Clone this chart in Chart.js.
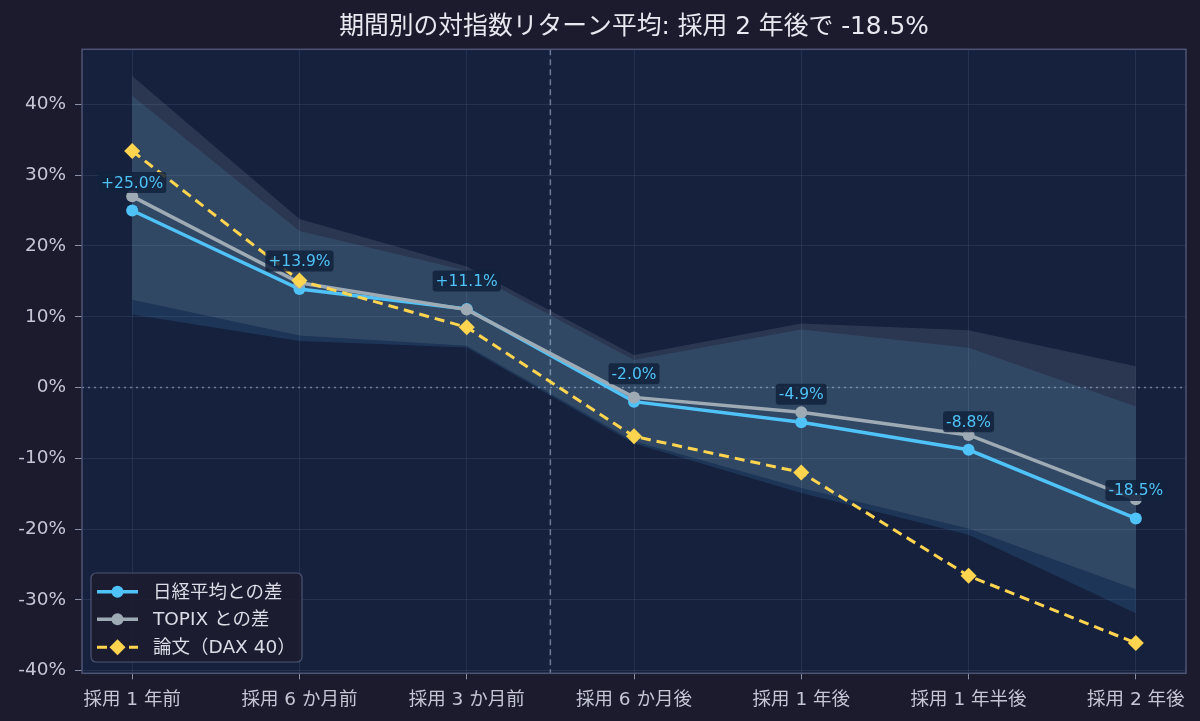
<!DOCTYPE html>
<html>
<head>
<meta charset="utf-8">
<script src="https://cdn.jsdelivr.net/npm/chart.js@4.4.1/dist/chart.umd.min.js"></script>
<style>
  html, body { margin: 0; padding: 0; background: #1c1b2e; }
  #wrap { width: 1200px; height: 721px; }
</style>
</head>
<body>
<div id="wrap"><canvas id="c" width="1200" height="721"></canvas></div>
<script>
// ---- data ----
const categories = ['採用 1 年前', '採用 6 か月前', '採用 3 か月前', '採用 6 か月後', '採用 1 年後', '採用 1 年半後', '採用 2 年後'];
const nikkeiDiff = [25.0, 13.9, 11.1, -2.0, -4.9, -8.8, -18.5];
const topixDiff = [27.0, 14.8, 11.0, -1.4, -3.5, -6.7, -15.8];
const daxPaper = [33.4, 15.1, 8.5, -6.9, -12.0, -26.6, -36.1];
const topixBandUpper = [44.0, 23.8, 17.1, 4.6, 9.05, 8.1, 3.0];
const topixBandLower = [12.4, 7.35, 5.9, -7.6, -14.2, -19.9, -28.5];
const nikkeiBandUpper = [41.2, 22.1, 16.5, 3.9, 8.2, 5.6, -2.7];
const nikkeiBandLower = [10.3, 6.55, 5.65, -7.9, -14.9, -20.8, -31.9];
const yTicks = [-40, -30, -20, -10, 0, 10, 20, 30, 40];
const legendLabels = ['日経平均との差', 'TOPIX との差', '論文（DAX 40）'];
const titleText = '期間別の対指数リターン平均: 採用 2 年後で -18.5%';

const FONT = "'DejaVu Sans', 'Noto Sans CJK JP', sans-serif";
const BLUE = '#4fc3f7', GRAY = '#9eaab4', YELLOW = '#ffd54f';
const xy = arr => arr.map((v, i) => ({ x: i, y: v }));

const bgPlugin = {
  id: 'bg',
  beforeDraw(chart) {
    const { ctx, chartArea: a } = chart;
    ctx.save();
    ctx.fillStyle = '#1c1b2e';
    ctx.fillRect(0, 0, chart.width, chart.height);
    ctx.fillStyle = '#16213e';
    ctx.fillRect(a.left, a.top, a.right - a.left, a.bottom - a.top);
    // title centred over the plot area
    ctx.fillStyle = '#e8e8f0';
    ctx.font = '24.8px ' + FONT;
    ctx.textAlign = 'center';
    ctx.textBaseline = 'middle';
    ctx.fillText(titleText, (a.left + a.right) / 2, 27.5);
    ctx.restore();
  },
  beforeDatasetsDraw(chart) {
    const { ctx, chartArea: a, scales } = chart;
    ctx.save();
    const y0 = scales.y.getPixelForValue(0);
    ctx.strokeStyle = 'rgba(140,155,185,0.75)';
    ctx.lineWidth = 1.5;
    ctx.setLineDash([2, 4]);
    ctx.beginPath(); ctx.moveTo(a.left, y0); ctx.lineTo(a.right, y0); ctx.stroke();
    const xv = scales.x.getPixelForValue(2.5);
    ctx.strokeStyle = 'rgba(130,145,175,0.8)';
    ctx.setLineDash([6, 4]);
    ctx.beginPath(); ctx.moveTo(xv, a.top); ctx.lineTo(xv, a.bottom); ctx.stroke();
    ctx.restore();
  },
  afterDatasetsDraw(chart) {
    const { ctx, chartArea: a } = chart;
    ctx.save();
    const meta = chart.getDatasetMeta(2);
    ctx.font = '15.5px ' + FONT;
    ctx.textAlign = 'center';
    ctx.textBaseline = 'middle';
    meta.data.forEach((pt, i) => {
      const v = nikkeiDiff[i];
      const txt = (v > 0 ? '+' : '') + v.toFixed(1) + '%';
      const w = ctx.measureText(txt).width + 6;
      const h = 21;
      const cx = pt.x, cy = pt.y - 28;
      ctx.fillStyle = 'rgba(18,34,60,0.85)';
      ctx.beginPath();
      ctx.roundRect(cx - w / 2, cy - h / 2, w, h, 3);
      ctx.fill();
      ctx.fillStyle = BLUE;
      ctx.fillText(txt, cx, cy + 1);
    });
    ctx.strokeStyle = '#4d5474';
    ctx.lineWidth = 1.5;
    ctx.strokeRect(a.left, a.top, a.right - a.left, a.bottom - a.top);
    const lx = 91, ly = 573, lw = 211, lh = 89;
    ctx.fillStyle = 'rgba(28,27,46,0.88)';
    ctx.strokeStyle = '#4d5474';
    ctx.lineWidth = 1.2;
    ctx.beginPath(); ctx.roundRect(lx, ly, lw, lh, 5); ctx.fill(); ctx.stroke();
    const rows = [591.7, 619.3, 647.3];
    const cols = [BLUE, GRAY, YELLOW];
    rows.forEach((ry, i) => {
      ctx.strokeStyle = cols[i];
      ctx.fillStyle = cols[i];
      if (i < 2) {
        ctx.setLineDash([]);
        ctx.lineWidth = 3.5;
        ctx.beginPath(); ctx.moveTo(97, ry); ctx.lineTo(138, ry); ctx.stroke();
        ctx.beginPath(); ctx.arc(117.5, ry, 6, 0, Math.PI * 2); ctx.fill();
      } else {
        ctx.setLineDash([10, 6]);
        ctx.lineWidth = 3;
        ctx.beginPath(); ctx.moveTo(97, ry); ctx.lineTo(138, ry); ctx.stroke();
        ctx.setLineDash([]);
        ctx.beginPath();
        ctx.moveTo(117.5, ry - 8); ctx.lineTo(125.5, ry); ctx.lineTo(117.5, ry + 8); ctx.lineTo(109.5, ry);
        ctx.closePath(); ctx.fill();
      }
      ctx.setLineDash([]);
      ctx.fillStyle = '#dcdce6';
      ctx.font = '18.5px ' + FONT;
      ctx.textAlign = 'left';
      ctx.textBaseline = 'middle';
      ctx.fillText(legendLabels[i], 153, ry + 1);
    });
    ctx.restore();
  }
};

new Chart(document.getElementById('c'), {
  type: 'line',
  data: {
    datasets: [
      { label: legendLabels[2], data: xy(daxPaper), order: 0, borderColor: YELLOW, backgroundColor: YELLOW,
        borderWidth: 3, borderDash: [10, 6], pointStyle: 'rectRot', pointRadius: 8, pointBorderWidth: 0, fill: false, tension: 0 },
      { label: legendLabels[1], data: xy(topixDiff), order: 1, borderColor: GRAY, backgroundColor: GRAY,
        borderWidth: 3.5, pointStyle: 'circle', pointRadius: 6, pointBorderWidth: 0, fill: false, tension: 0 },
      { label: legendLabels[0], data: xy(nikkeiDiff), order: 2, borderColor: BLUE, backgroundColor: BLUE,
        borderWidth: 3.5, pointStyle: 'circle', pointRadius: 6, pointBorderWidth: 0, fill: false, tension: 0 },
      { label: 'topixUpper', data: xy(topixBandUpper), order: 3, borderWidth: 0, pointRadius: 0,
        backgroundColor: 'rgba(176,190,197,0.14)', fill: '+1', tension: 0 },
      { label: 'topixLower', data: xy(topixBandLower), order: 3, borderWidth: 0, pointRadius: 0, fill: false, tension: 0 },
      { label: 'nikkeiUpper', data: xy(nikkeiBandUpper), order: 4, borderWidth: 0, pointRadius: 0,
        backgroundColor: 'rgba(79,195,247,0.13)', fill: '+1', tension: 0 },
      { label: 'nikkeiLower', data: xy(nikkeiBandLower), order: 4, borderWidth: 0, pointRadius: 0, fill: false, tension: 0 }
    ]
  },
  options: {
    responsive: false,
    animation: false,
    devicePixelRatio: 1,
    layout: { padding: { left: 0, right: 14, top: 49.3, bottom: 0 } },
    plugins: {
      legend: { display: false },
      tooltip: { enabled: false },
      title: { display: false }
    },
    scales: {
      x: {
        type: 'linear', min: -0.3, max: 6.3,
        afterBuildTicks: s => { s.ticks = categories.map((c, i) => ({ value: i })); },
        afterFit: s => { s.height = 47.7; },
        ticks: { callback: v => categories[v], color: '#c4c6d4', font: { family: FONT, size: 18.5 }, padding: 10, maxRotation: 0, autoSkip: false },
        grid: { color: 'rgba(120,135,175,0.16)', tickColor: '#8a90a8', tickLength: 6, lineWidth: 1 },
        border: { display: false }
      },
      y: {
        type: 'linear', min: -40.37, max: 47.77,
        afterBuildTicks: s => { s.ticks = yTicks.map(v => ({ value: v })); },
        afterFit: s => { s.width = 82; },
        ticks: { callback: v => v + '%', color: '#c4c6d4', font: { family: FONT, size: 18.5 }, padding: 9 },
        grid: { color: 'rgba(120,135,175,0.16)', tickColor: '#8a90a8', tickLength: 7, lineWidth: 1 },
        border: { display: false }
      }
    }
  },
  plugins: [bgPlugin]
});
</script>
</body>
</html>
